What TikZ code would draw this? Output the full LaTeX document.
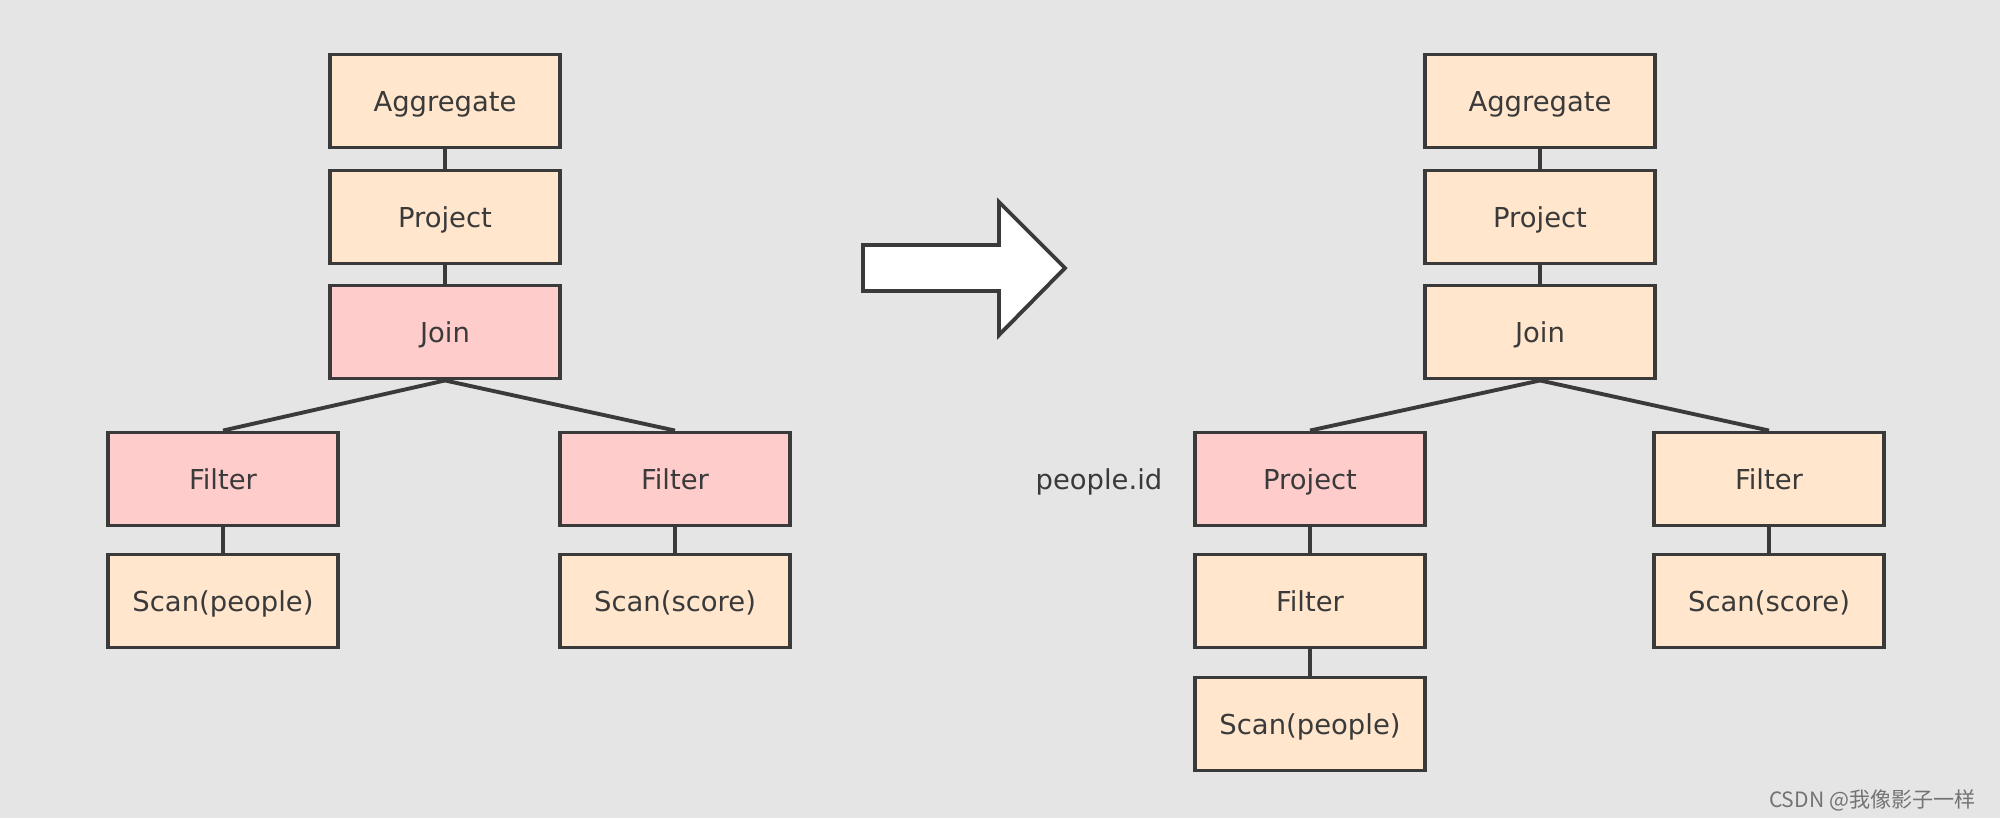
\documentclass[tikz,border=0pt]{standalone}
\usepackage{fontspec}
\setmainfont{DejaVu Sans}
\newfontfamily\cjk{Noto Sans CJK SC}
\definecolor{bg}{HTML}{E5E5E5}
\definecolor{peach}{HTML}{FFE6CC}
\definecolor{rose}{HTML}{FFCCCC}
\definecolor{ink}{HTML}{3A3A3A}
\tikzset{
  op/.style={draw=ink, line width=1.1pt, fill=peach, minimum width=2.3cm,
    minimum height=0.93cm, inner sep=0pt, text=ink, text height=5.7pt,
    text depth=0pt, font=\fontsize{7.8}{9}\selectfont},
  hot/.style={op, fill=rose},
  link/.style={draw=ink, line width=1.1pt},
}

\begin{document}
\begin{tikzpicture}[x=0.01cm, y=-0.01cm]
      \fill[bg] (0,0) rectangle (2000,818);
      \useasboundingbox (0,0) rectangle (2000,818);
      % plan before
      \draw
        (445,101) node[op] (a1){Aggregate}
        (445,217) node[op] (p1){Project}
        (445,332) node[hot] (j1){Join}
        (223,479) node[hot] (f1){Filter}
        (675,479) node[hot] (g1){Filter}
        (223,601) node[op] (s1){Scan(people)}
        (675,601) node[op] (t1){Scan(score)};
      % plan after
      \draw
        (1540,101) node[op] (a2){Aggregate}
        (1540,217) node[op] (p2){Project}
        (1540,332) node[op] (j2){Join}
        (1310,479) node[hot] (q2){Project}
        (1769,479) node[op] (g2){Filter}
        (1310,601) node[op] (f2){Filter}
        (1769,601) node[op] (t2){Scan(score)}
        (1310,724) node[op] (s2){Scan(people)};
      \node[anchor=east, inner sep=0pt, text=ink, text height=5.7pt,
        text depth=0pt, font=\fontsize{7.8}{9}\selectfont]
        (col) at (1163,479) {people.id};
      \begin{scope}[link]
        \draw (a1) to (p1);
        \draw (p1) to (j1);
        \draw (j1.south) to (f1.north);
        \draw (j1.south) to (g1.north);
        \draw (f1) to (s1);
        \draw (g1) to (t1);
        \draw (a2) to (p2);
        \draw (p2) to (j2);
        \draw (j2.south) to (q2.north);
        \draw (j2.south) to (g2.north);
        \draw (q2) to (f2);
        \draw (f2) to (s2);
        \draw (g2) to (t2);
      \end{scope}
      % big arrow
      \draw[ink, fill=white, line width=1.1pt, line join=miter]
        (863,245) -- (999,245) -- (999,202) -- (1065,268)
        -- (999,335) -- (999,291) -- (863,291) -- cycle;
      \node[anchor=east, text=black!55, font=\cjk\fontsize{6}{7}\selectfont]
        (mark) at (1988,800) {CSDN @我像影子一样};
    \end{tikzpicture}
\end{document}
